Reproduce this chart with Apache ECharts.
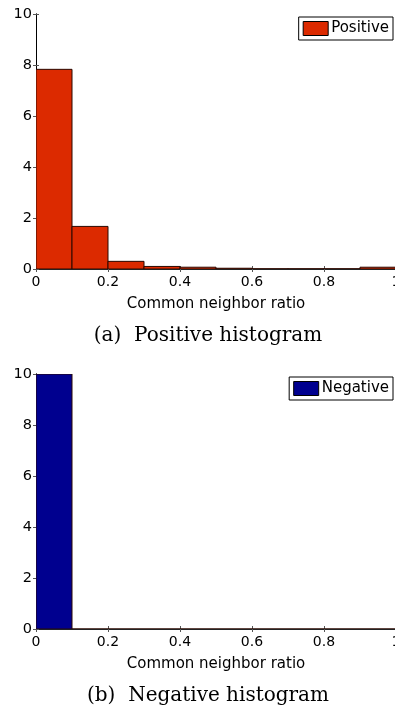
<!DOCTYPE html>
<html>
<head>
<meta charset="utf-8">
<script src="https://cdn.jsdelivr.net/npm/echarts@6/dist/echarts.min.js"></script>
<style>
  html, body { margin: 0; padding: 0; background: #fff; }
  #chart { width: 395px; height: 706px; }
</style>
</head>
<body>
<div id="chart"></div>
<script>
// Histogram bins over the common neighbor ratio (left edges, width 0.1)
const binStarts = [0.0, 0.1, 0.2, 0.3, 0.4, 0.5, 0.6, 0.7, 0.8, 0.9];
const binWidth = 0.1;
// Density values per bin
const positiveValues = [7.83, 1.67, 0.30, 0.10, 0.07, 0.03, 0.01, 0.01, 0.01, 0.07];
const negativeValues = [10.0, 0.0, 0.0, 0.0, 0.0, 0.0, 0.0, 0.0, 0.0, 0.0];
const xTicks = [0, 0.2, 0.4, 0.6, 0.8, 1];
const yTicks = [0, 2, 4, 6, 8, 10];
const xLabel = 'Common neighbor ratio';
const captions = ['(a)  Positive histogram', '(b)  Negative histogram'];
const seriesNames = ['Positive', 'Negative'];
const colors = ['#dc2a00', '#00008f'];

const sans = 'DejaVu Sans, Liberation Sans, sans-serif';
const serif = 'DejaVu Serif, Liberation Serif, serif';

const chart = echarts.init(document.getElementById('chart'), null, { renderer: 'canvas' });

const grids = [
  { left: 36, top: 14, width: 360, height: 255, outerBoundsMode: 'none', containLabel: false },
  { left: 36, top: 374, width: 360, height: 255, outerBoundsMode: 'none', containLabel: false }
];

function xAxisPair(gi) {
  return [
    {
      type: 'value', gridIndex: gi, position: 'bottom', min: 0, max: 1, interval: 0.2,
      axisLine: { show: true, onZero: false, lineStyle: { color: '#000', width: 1 } },
      axisTick: { show: true, inside: true, length: 3, lineStyle: { color: '#555' } },
      axisLabel: {
        show: true, color: '#000', fontFamily: sans, fontSize: 14, margin: 6,
        formatter: v => (xTicks.indexOf(v) >= 0 ? String(v) : '')
      },
      splitLine: { show: false },
      name: xLabel, nameLocation: 'middle', nameGap: 28,
      nameTextStyle: { color: '#000', fontFamily: sans, fontSize: 15 }
    },
    {
      type: 'value', gridIndex: gi, position: 'top', min: 0, max: 1, interval: 0.2,
      axisLine: { show: true, lineStyle: { color: '#222', width: 1 } },
      axisTick: { show: true, inside: true, length: 3, lineStyle: { color: '#555' } },
      axisLabel: { show: false },
      splitLine: { show: false }
    }
  ];
}

function yAxisPair(gi) {
  return [
    {
      type: 'value', gridIndex: gi, position: 'left', min: 0, max: 10, interval: 2,
      axisLine: { show: true, lineStyle: { color: '#000', width: 1 } },
      axisTick: { show: true, inside: true, length: 3, lineStyle: { color: '#555' } },
      axisLabel: {
        show: true, color: '#000', fontFamily: sans, fontSize: 14.5, margin: 4,
        formatter: v => (yTicks.indexOf(v) >= 0 ? String(v) : '')
      },
      splitLine: { show: false }
    },
    {
      type: 'value', gridIndex: gi, position: 'right', min: 0, max: 10, interval: 2,
      axisLine: { show: true, lineStyle: { color: '#000', width: 1 } },
      axisTick: { show: true, inside: true, length: 3, lineStyle: { color: '#555' } },
      axisLabel: { show: false },
      splitLine: { show: false }
    }
  ];
}

function histSeries(name, values, color, xi, yi) {
  return {
    type: 'custom', name: name, xAxisIndex: xi, yAxisIndex: yi,
    data: binStarts.map((s, i) => [s, s + binWidth, values[i]]),
    clip: true,
    renderItem: function (params, api) {
      const p0 = api.coord([api.value(0), api.value(2)]);
      const p1 = api.coord([api.value(1), 0]);
      return {
        type: 'rect',
        shape: { x: p0[0], y: p0[1], width: p1[0] - p0[0], height: p1[1] - p0[1] },
        style: { fill: color, stroke: '#2a0800', lineWidth: 1 }
      };
    },
    itemStyle: { color: color, borderColor: '#000', borderWidth: 1 }
  };
}

function legendBox(name, top) {
  return {
    data: [{ name: name, icon: 'rect' }], right: 2, top: top, orient: 'vertical',
    itemWidth: 25, itemHeight: 14, itemGap: 4,
    padding: [4, 4, 4, 4], borderColor: '#000', borderWidth: 1, borderRadius: 0,
    backgroundColor: '#fff',
    itemStyle: { borderColor: '#000', borderWidth: 1 },
    textStyle: { color: '#000', fontFamily: sans, fontSize: 15, padding: [0, 0, 0, -2] }
  };
}

const option = {
  animation: false,
  backgroundColor: '#fff',
  grid: grids,
  xAxis: [...xAxisPair(0), ...xAxisPair(1)],
  yAxis: [...yAxisPair(0), ...yAxisPair(1)],
  legend: [legendBox(seriesNames[0], 17), legendBox(seriesNames[1], 377)],
  graphic: [
    {
      type: 'text', x: 208, y: 326,
      style: { text: captions[0], font: '20px ' + serif, fill: '#000', textAlign: 'center' }
    },
    {
      type: 'text', x: 208, y: 686,
      style: { text: captions[1], font: '20px ' + serif, fill: '#000', textAlign: 'center' }
    }
  ],
  series: [
    histSeries(seriesNames[0], positiveValues, colors[0], 0, 0),
    histSeries(seriesNames[1], negativeValues, colors[1], 2, 2)
  ]
};

chart.setOption(option);
</script>
</body>
</html>
